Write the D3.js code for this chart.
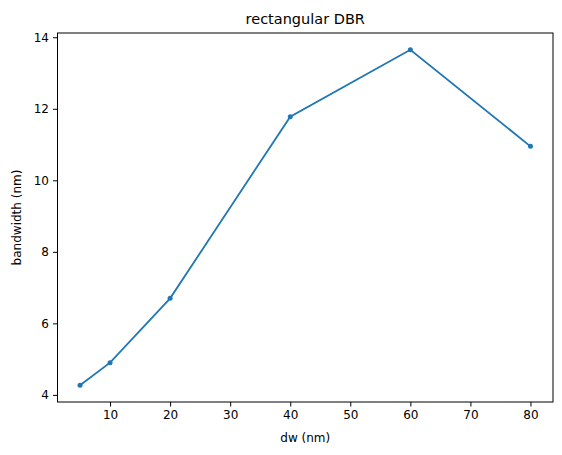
<!DOCTYPE html>
<html><head><meta charset="utf-8">
<script src="https://cdn.jsdelivr.net/npm/d3@7"></script>
<style>body{margin:0;background:#fff}text{font-family:"DejaVu Sans",sans-serif}</style>
</head><body>
<svg id="c" width="562" height="455"></svg>
<script>
const dw = [5, 10, 20, 40, 60, 80];
const bandwidth = [4.27, 4.9, 6.7, 11.78, 13.65, 10.95];
const xTicks = [10, 20, 30, 40, 50, 60, 70, 80];
const yTicks = [4, 6, 8, 10, 12, 14];

const svg = d3.select("#c");
const L = 57.5, R = 553, T = 33, B = 402;
const xr = 75 * 0.05, yr = (d3.max(bandwidth) - d3.min(bandwidth)) * 0.05;
const x = d3.scaleLinear().domain([5 - xr, 80 + xr]).range([L, R]);
const y = d3.scaleLinear().domain([d3.min(bandwidth) - yr, d3.max(bandwidth) + yr]).range([B, T]);

const gx = svg.append("g").attr("transform", `translate(0,${B})`)
  .call(d3.axisBottom(x).tickValues(xTicks).tickSize(4.5).tickPadding(4));
const gy = svg.append("g").attr("transform", `translate(${L},0)`)
  .call(d3.axisLeft(y).tickValues(yTicks).tickSize(4.5).tickPadding(4));
[gx, gy].forEach(g => {
  g.select(".domain").remove();
  g.selectAll("text").attr("font-size", 12).attr("fill", "#000").style("font-family", "DejaVu Sans");
  g.selectAll("line").attr("stroke", "#000").attr("stroke-width", 1);
});
svg.append("rect").attr("x", L).attr("y", T).attr("width", R - L).attr("height", B - T)
  .attr("fill", "none").attr("stroke", "#000").attr("stroke-width", 1);

const line = d3.line().x((d, i) => x(dw[i])).y(d => y(d));
svg.append("path").datum(bandwidth).attr("d", line).attr("fill", "none")
  .attr("stroke", "#1f77b4").attr("stroke-width", 1.8);
svg.selectAll("circle.p").data(bandwidth).join("circle").attr("class", "p")
  .attr("cx", (d, i) => x(dw[i])).attr("cy", d => y(d)).attr("r", 2.5).attr("fill", "#1f77b4");

svg.append("text").attr("x", (L + R) / 2).attr("y", 442).attr("text-anchor", "middle")
  .attr("font-size", 12).text("dw (nm)");
svg.append("text").attr("transform", `translate(21,${(T + B) / 2}) rotate(-90)`)
  .attr("text-anchor", "middle").attr("font-size", 12).text("bandwidth (nm)");
svg.append("text").attr("x", (L + R) / 2).attr("y", 24).attr("text-anchor", "middle")
  .attr("font-size", 14.5).text("rectangular DBR");
</script>
</body></html>
